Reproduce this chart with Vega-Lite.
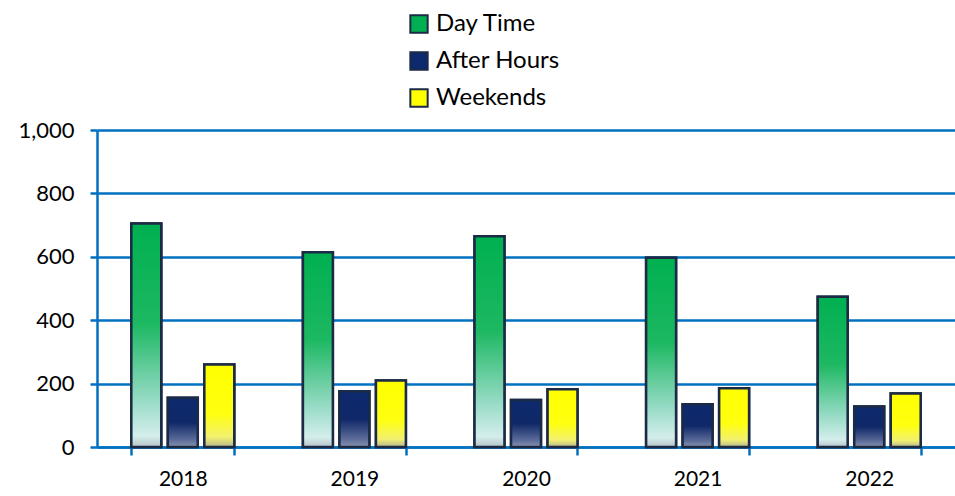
{
  "$schema": "https://vega.github.io/schema/vega-lite/v6.json",
  "width": 858,
  "height": 317,
  "autosize": {"type": "none"},
  "padding": {"left": 97, "top": 130, "right": 0, "bottom": 49},
  "background": "white",
  "config": {
    "view": {"stroke": null},
    "font": "Lato",
    "axis": {"labelFont": "Lato", "labelFontSize": 20, "labelColor": "#000000"}
  },
  "data": {
    "values": [
      {"year": "2018", "series": "Day Time", "value": 705},
      {"year": "2018", "series": "After Hours", "value": 155},
      {"year": "2018", "series": "Weekends", "value": 260},
      {"year": "2019", "series": "Day Time", "value": 614},
      {"year": "2019", "series": "After Hours", "value": 176},
      {"year": "2019", "series": "Weekends", "value": 210},
      {"year": "2020", "series": "Day Time", "value": 665},
      {"year": "2020", "series": "After Hours", "value": 148},
      {"year": "2020", "series": "Weekends", "value": 182},
      {"year": "2021", "series": "Day Time", "value": 597},
      {"year": "2021", "series": "After Hours", "value": 135},
      {"year": "2021", "series": "Weekends", "value": 185},
      {"year": "2022", "series": "Day Time", "value": 474},
      {"year": "2022", "series": "After Hours", "value": 128},
      {"year": "2022", "series": "Weekends", "value": 169}
    ]
  },
  "encoding": {
    "x": {
      "field": "year", "type": "nominal", "title": null,
      "scale": {"paddingInner": 0.4, "paddingOuter": 0.2},
      "axis": {
        "labelAngle": 0, "domainColor": "#0070C0", "domainWidth": 2.5,
        "tickColor": "#0070C0", "tickWidth": 2.5, "tickSize": 8, "tickBand": "extent",
        "labelPadding": 13, "grid": false, "labelFontSize": 21
      }
    },
    "xOffset": {
      "field": "series", "type": "nominal",
      "scale": {"domain": ["Day Time", "After Hours", "Weekends"], "paddingInner": 0.18, "paddingOuter": 0}
    },
    "y": {
      "field": "value", "type": "quantitative", "title": null,
      "scale": {"domain": [0, 1000], "nice": false},
      "axis": {
        "values": [0, 200, 400, 600, 800, 1000], "format": ",.0f",
        "domainColor": "#0070C0", "domainWidth": 2.5,
        "tickColor": "#0070C0", "tickWidth": 2.5, "tickSize": 7,
        "gridColor": "#0070C0", "gridWidth": 2.5, "labelPadding": 16, "labelFontSize": 22
      }
    }
  },
  "layer": [
    {
      "mark": {"type": "bar", "stroke": "#1B2A45", "strokeWidth": 2.5},
      "encoding": {
        "color": {
          "field": "series", "type": "nominal",
          "scale": {"domain": ["Day Time", "After Hours", "Weekends"], "range": ["#00B050", "#0D2A6E", "#FFFF00"]},
          "legend": {
            "title": null, "orient": "none", "legendX": 310, "legendY": -118,
            "direction": "vertical", "symbolType": "square", "symbolSize": 300,
            "symbolStrokeColor": "#1B2A45", "symbolStrokeWidth": 2, "symbolOpacity": 1,
            "labelFontSize": 24, "labelFont": "Lato", "labelColor": "#000000",
            "rowPadding": 11, "labelOffset": 5, "padding": 0
          }
        }
      }
    },
    {
      "transform": [{"filter": "datum.series === 'Day Time'"}],
      "mark": {
        "type": "bar", "stroke": "#1B2A45", "strokeWidth": 2.5,
        "color": {"gradient": "linear", "x1": 0, "y1": 0, "x2": 0, "y2": 1,
          "stops": [
            {"offset": 0, "color": "#00B050"},
            {"offset": 0.45, "color": "#1DB862"},
            {"offset": 0.8, "color": "#9ADCC8"},
            {"offset": 0.95, "color": "#D4EEEC"},
            {"offset": 1, "color": "#B8C4C8"}
          ]}
      }
    },
    {
      "transform": [{"filter": "datum.series === 'After Hours'"}],
      "mark": {
        "type": "bar", "stroke": "#1B2A45", "strokeWidth": 2.5,
        "color": {"gradient": "linear", "x1": 0, "y1": 0, "x2": 0, "y2": 1,
          "stops": [
            {"offset": 0, "color": "#0D2A6E"},
            {"offset": 0.5, "color": "#0F2868"},
            {"offset": 0.85, "color": "#5A6A98"},
            {"offset": 1, "color": "#8A94AE"}
          ]}
      }
    },
    {
      "transform": [{"filter": "datum.series === 'Weekends'"}],
      "mark": {
        "type": "bar", "stroke": "#1B2A45", "strokeWidth": 2.5,
        "color": {"gradient": "linear", "x1": 0, "y1": 0, "x2": 0, "y2": 1,
          "stops": [
            {"offset": 0, "color": "#FFFF00"},
            {"offset": 0.6, "color": "#FFFF10"},
            {"offset": 0.88, "color": "#F2F070"},
            {"offset": 1, "color": "#B8B890"}
          ]}
      }
    }
  ]
}
